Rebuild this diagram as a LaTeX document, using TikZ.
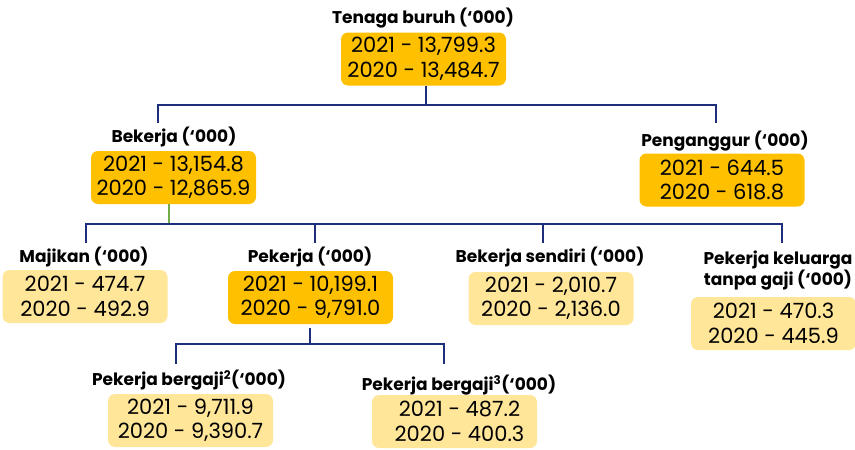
\documentclass[tikz,border=0pt]{standalone}
\usepackage{fontspec}
\setmainfont{Poppins}
\begin{document}
\begin{tikzpicture}[x=1pt,y=-1pt,
  box/.style={rounded corners=7pt, minimum width=165pt, minimum height=53pt, inner sep=0pt, align=center,
    font=\fontsize{21}{24.5}\selectfont, text=black},
  dark/.style={box, fill=gold},
  light/.style={box, fill=paleGold},
  ttl/.style={font=\bfseries\fontsize{17}{21}\selectfont, align=center, inner sep=0pt, text=black},
  conn/.style={draw=navy, line width=2.7pt},
  gconn/.style={draw=leaf, line width=2.7pt}]
\definecolor{gold}{RGB}{255,192,0}
\definecolor{paleGold}{RGB}{255,230,153}
\definecolor{navy}{RGB}{31,46,122}
\definecolor{leaf}{RGB}{112,173,71}
\useasboundingbox (0,0) rectangle (855,450);

% boxes
\node[dark]  (tb)  at (423.5,59)   {2021 - 13,799.3\\2020 - 13,484.7};
\node[dark]  (bk)  at (173.5,177.5) {2021 - 13,154.8\\2020 - 12,865.9};
\node[dark]  (pg)  at (722,180)    {2021 - 644.5\\2020 - 618.8};
\node[light] (mj)  at (85,296.5)   {2021 - 474.7\\2020 - 492.9};
\node[dark]  (pk)  at (310.5,297.5) {2021 - 10,199.1\\2020 - 9,791.0};
\node[light] (bs)  at (551,298.5)  {2021 - 2,010.7\\2020 - 2,136.0};
\node[light] (kl)  at (773.5,323.5) {2021 - 470.3\\2020 - 445.9};
\node[light] (bg2) at (190.5,420.5) {2021 - 9,711.9\\2020 - 9,390.7};
\node[light] (bg3) at (454.5,421.5) {\hspace*{10pt}2021 - 487.2\\\hspace*{10pt}2020 - 400.3};

% titles
\node[ttl] (tbT)  at (423,18)   {Tenaga buruh (‘000)};
\node[ttl] (bkT)  at (174,137)  {Bekerja (‘000)};
\node[ttl] (pgT)  at (725,141)  {Penganggur (‘000)};
\node[ttl] (mjT)  at (84,257)   {Majikan (‘000)};
\node[ttl] (pkT)  at (310,257)  {Pekerja (‘000)};
\node[ttl] (bsT)  at (550,257)  {Bekerja sendiri (‘000)};
\node[ttl] (klT)  at (778,271)  {Pekerja keluarga\\tanpa gaji (‘000)};
\node[ttl] (bg2T) at (189,380)  {Pekerja bergaji\textsuperscript{2}(‘000)};
\node[ttl] (bg3T) at (459,385)  {Pekerja bergaji\textsuperscript{3}(‘000)};

% connector coordinates
\coordinate (j1) at (426,105);
\coordinate (d1a) at (158,123);
\coordinate (d1b) at (716,123);
\coordinate (j2) at (169,224);
\coordinate (d2a) at (86,243);
\coordinate (d2b) at (315,243);
\coordinate (d2c) at (543,243);
\coordinate (d2d) at (782,243);
\coordinate (j3) at (310,344);
\coordinate (s3) at (310,328);
\coordinate (d3a) at (176,364);
\coordinate (d3b) at (444,364);

% connectors
\draw[conn] (tb.south -| j1) -- (j1);
\draw[conn] (d1a) |- (j1) -| (d1b);
\draw[gconn] (bk.south -| j2) -- (j2);
\draw[conn] (d2a) |- (j2) -| (d2d);
\draw[conn] (d2b) -- (d2b |- j2);
\draw[conn] (d2c) -- (d2c |- j2);
\draw[conn] (s3) -- (j3);
\draw[conn] (d3a) |- (j3) -| (d3b);
\end{tikzpicture}
\end{document}
